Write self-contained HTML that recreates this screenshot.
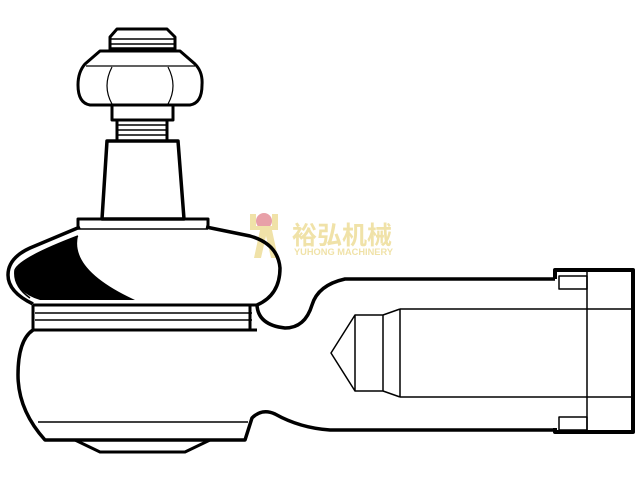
<!DOCTYPE html>
<html><head><meta charset="utf-8"><style>html,body{margin:0;padding:0;background:#fff}svg{display:block}</style></head>
<body>
<svg width="640" height="480" viewBox="0 0 640 480" xmlns="http://www.w3.org/2000/svg" fill="none" stroke="#000" stroke-linejoin="round">
<!-- logo -->
<g stroke="none">
<circle cx="264" cy="221" r="8" fill="#e8a0a8"/>
<path d="M250 214 h6 v12 h16 v-12 h6 v16 h-6 l6 28 h-7 l-5 -22 l-5 22 h-7 l6 -28 h-10 z" fill="#f0e2a8"/>
<text x="292" y="244" font-family="Liberation Sans, 'Noto Sans CJK SC', sans-serif" font-size="25" font-weight="bold" fill="#f0e2a8">裕弘机械</text>
<text x="294" y="255" font-family="Liberation Sans, sans-serif" font-size="9" font-weight="bold" fill="#f0e2a8" textLength="99" lengthAdjust="spacingAndGlyphs">YUHONG MACHINERY</text>
</g>
<!-- top cap -->
<path d="M117 29 H167 L175 37 V50 H110 V37 Z" stroke-width="3"/>
<path d="M111 39 H174 M111 44 H174 M111 48 H174" stroke-width="1.5"/>
<!-- nut -->
<path d="M100 51 H180 L195 64 Q203 72 202 85 Q202 103 190 105 H90 Q78 103 78 85 Q78 72 85 64 Z" stroke-width="3"/>
<path d="M86 66 H195" stroke-width="1.2"/>
<path d="M112 67 Q102 86 112 104 M168 67 Q178 86 168 104" stroke-width="1.2"/>
<!-- washer & threads -->
<path d="M112 105 V120 H173 V105" stroke-width="3"/>
<path d="M117 120 V140 M167 120 V140" stroke-width="3"/>
<path d="M117 125 H167 M117 130 H167 M117 135 H167" stroke-width="1.5"/>
<!-- shank -->
<path d="M107 141 H178 L184 219 H102 Z" stroke-width="3.5"/>
<!-- collar -->
<path d="M78 229 V219 H208 V229" stroke-width="3"/>
<path d="M78 229 H208" stroke-width="1.5"/>
<!-- boot -->
<path d="M80 227 L30 248 Q8 258 8 275 Q8 292 33 304 M206 227 L250 236 Q278 244 280 268 Q280 295 257 305" stroke-width="3.5"/>
<path d="M78 236 Q20 258 15 270 Q13 286 30 298" stroke-width="1.5"/>
<path d="M78 236 Q70 270 135 300 L40 300 Q14 292 15 272 Q18 258 78 236 Z" fill="#000" stroke="none"/>
<!-- bands -->
<path d="M33 305 H257 M33 330 H257 M33 305 V330 M250 305 V330" stroke-width="3"/>
<path d="M35 313 H252 M35 320 H252" stroke-width="1.5"/>
<!-- lower body -->
<path d="M33 330 Q18 340 18 375 Q18 410 45 440 H245 L252 418 Q262 408 275 414 Q300 428 330 430 H555" stroke-width="3.5"/>
<path d="M257 305 Q258 325 285 328 Q305 328 312 305 Q318 285 345 279 H555" stroke-width="3.5"/>
<path d="M38 422 H248" stroke-width="1.5"/>
<path d="M75 440 L100 452 H185 L210 440" stroke-width="3"/>
<!-- rod end -->
<path d="M555 279 V270 H633 V432 H555 V428" stroke-width="4"/>
<path d="M587 271 V431" stroke-width="1.5"/>
<path d="M559 276 H587 V289 H559 Z M559 417 H587 V430 H559 Z" stroke-width="1.5"/>
<!-- cone / inner -->
<path d="M400 309 H631 M400 397 H631" stroke-width="1.5"/>
<path d="M400 309 V397 M400 309 L383 315 V391 L400 397 M383 315 H355 V391 H383 M355 315 L331 353 L355 391" stroke-width="1.5"/>
</svg>
</body></html>
